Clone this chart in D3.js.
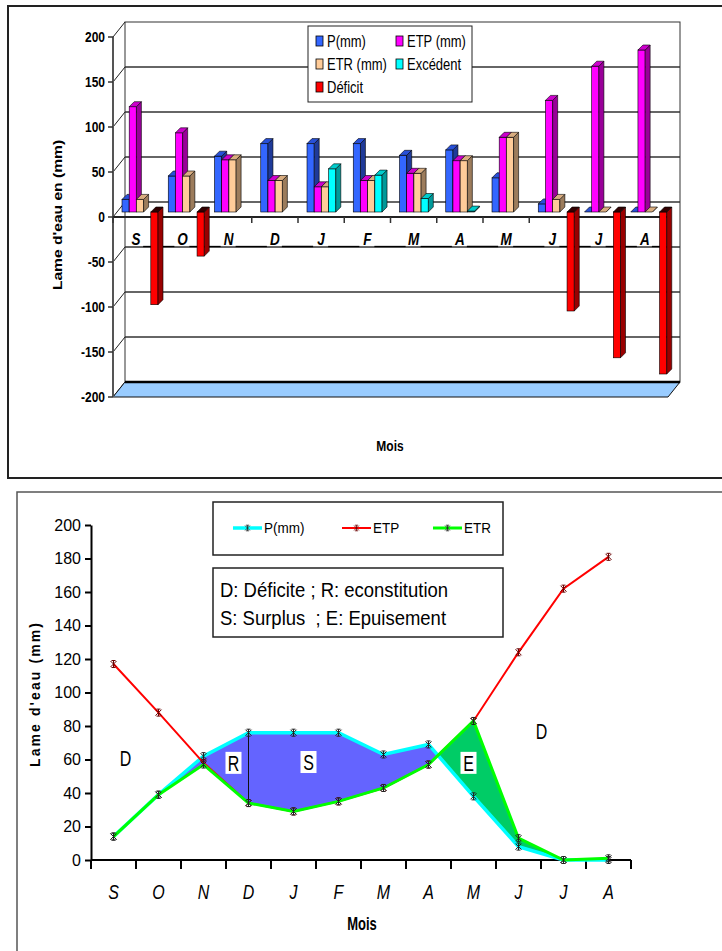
<!DOCTYPE html>
<html>
<head>
<meta charset="utf-8">
<script src="https://d3js.org/d3.v7.min.js"></script>
<style>
    body { margin: 0; background: #fff; font-family: Arial, "Liberation Sans", sans-serif; }
    svg { display: block; }
</style>
</head>
<body>
<svg id="chart" width="722" height="951"></svg>
<script>
    // months (Sept -> Aug)
    const months = ["S", "O", "N", "D", "J", "F", "M", "A", "M", "J", "J", "A"];

    // top chart : bar values (mm)
    const pBar = [14, 40, 62, 76, 76, 76, 63, 69, 38, 9, 0, 0];
    const etpBar = [117, 88, 58, 35, 28, 35, 43, 57, 83, 124, 162, 180];
    const etrBar = [14, 40, 58, 35, 28, 35, 43, 57, 83, 14, 0, 0];
    const excedent = [null, null, null, null, 48, 41, 15, 1, null, null, null, null];
    const deficit = [-103, -49, null, null, null, null, null, null, null, -110, -162, -180];
    const barTicks = [200, 150, 100, 50, 0, -50, -100, -150, -200];

    // bottom chart : line values (mm)
    const pLine = [14, 39, 62, 76, 76, 76, 63, 69, 38, 8, 0, 0];
    const etpLine = [117, 88, 58, 34, 29, 35, 43, 57, 83, 124, 162, 181];
    const etrLine = [14, 39, 57, 34, 29, 35, 43, 57, 83, 13, 0, 1];
    const lineTicks = [0, 20, 40, 60, 80, 100, 120, 140, 160, 180, 200];

    const svg = d3.select("#chart");

    // text helper (the original scan is a bit stretched vertically)
    function label(g, x, y, s, o = {}) {
        const t = g.append("text")
            .attr("transform", `translate(${x},${y}) scale(1,${o.sy || 1})${o.rot ? " rotate(" + o.rot + ")" : ""}`)
            .attr("text-anchor", o.anchor || "middle")
            .attr("font-size", o.size || 12)
            .attr("font-weight", o.bold ? "bold" : "normal")
            .attr("font-style", o.italic ? "italic" : "normal")
            .attr("fill", "#000")
            .style("white-space", "pre")
            .text(s);
        if (o.dy) t.attr("dy", o.dy);
        if (o.len) t.attr("textLength", o.len).attr("lengthAdjust", "spacing");
        return t;
    }

    // ================= TOP CHART (3D bars) =================
    const topG = svg.append("g");
    topG.append("rect").attr("x", 8).attr("y", 6).attr("width", 760).attr("height", 472)
        .attr("fill", "none").attr("stroke", "#222").attr("stroke-width", 2);

    const wall = { dx: 12, dy: -15 };      // back wall offset
    const bar3d = { dx: 5, dy: -5 };       // bar thickness
    const yFront = d3.scaleLinear().domain([-200, 200]).range([397, 37]);
    const yBar = d3.scaleLinear().domain([-200, 200]).range([392, 32]);
    const xTop = d3.scaleBand().domain(d3.range(12)).range([113, 668]);
    const xL = xTop.range()[0], xR = xTop.range()[1];

    // back wall
    topG.append("rect")
        .attr("x", xL + wall.dx).attr("y", yFront(200) + wall.dy)
        .attr("width", xR - xL).attr("height", yFront(-200) - yFront(200))
        .attr("fill", "#fff").attr("stroke", "#333").attr("stroke-width", 1);
    topG.selectAll(".grid").data(barTicks.filter(v => v > -200 && v < 200)).enter()
        .append("line")
        .attr("x1", xL + wall.dx).attr("x2", xR + wall.dx)
        .attr("y1", v => yFront(v) + wall.dy).attr("y2", v => yFront(v) + wall.dy)
        .attr("stroke", "#333").attr("stroke-width", 1.5);
    // left side wall
    topG.selectAll(".side").data(barTicks).enter()
        .append("line")
        .attr("x1", xL).attr("x2", xL + wall.dx)
        .attr("y1", v => yFront(v)).attr("y2", v => yFront(v) + wall.dy)
        .attr("stroke", "#222").attr("stroke-width", 1);
    // floor
    topG.append("polygon")
        .attr("points", [[xL, yFront(-200)], [xR, yFront(-200)], [xR + wall.dx, yFront(-200) + wall.dy], [xL + wall.dx, yFront(-200) + wall.dy]].join(" "))
        .attr("fill", "#99ccff").attr("stroke", "#111").attr("stroke-width", 1);
    topG.append("line")
        .attr("x1", xL + wall.dx).attr("x2", xR + wall.dx)
        .attr("y1", yFront(-200) + wall.dy).attr("y2", yFront(-200) + wall.dy)
        .attr("stroke", "#000").attr("stroke-width", 2.5);

    // y axis
    topG.append("line").attr("x1", xL).attr("x2", xL).attr("y1", yFront(200)).attr("y2", yFront(-200))
        .attr("stroke", "#555").attr("stroke-width", 2);
    barTicks.forEach(v => {
        topG.append("line").attr("x1", xL - 5).attr("x2", xL).attr("y1", yFront(v)).attr("y2", yFront(v))
            .attr("stroke", "#333").attr("stroke-width", 1.5);
        label(topG, xL - 8, yFront(v), String(v), { anchor: "end", bold: true, size: 12, sy: 1.25, dy: "0.35em" });
    });

    // x axis
    topG.append("line").attr("x1", xL).attr("x2", xR).attr("y1", yFront(0)).attr("y2", yFront(0))
        .attr("stroke", "#222").attr("stroke-width", 2);
    d3.range(13).forEach(i => {
        const xx = i < 12 ? xTop(i) : xR;
        topG.append("line").attr("x1", xx).attr("x2", xx).attr("y1", yFront(0)).attr("y2", yFront(0) + 6)
            .attr("stroke", "#333").attr("stroke-width", 1.5);
    });
    months.forEach((m, i) => {
        const cx = xTop(i) + xTop.bandwidth() / 2;
        const nx = i < 11 ? xTop(i + 1) + xTop.bandwidth() / 2 - 8 : cx + 20;
        topG.append("line").attr("x1", cx + 7).attr("x2", nx).attr("y1", 246.5).attr("y2", 246.5)
            .attr("stroke", "#000").attr("stroke-width", 1.3);
        label(topG, cx, 245, m, { bold: true, italic: true, size: 13.5, sy: 1.25 });
    });

    // bars
    const series = [
        { key: "P", name: "P(mm)", values: pBar, front: "#3366ff", top: "#2850d8", side: "#1f3a99" },
        { key: "ETP", name: "ETP (mm)", values: etpBar, front: "#ff00ff", top: "#cc00cc", side: "#990099" },
        { key: "ETR", name: "ETR (mm)", values: etrBar, front: "#ffcc99", top: "#d9ad80", side: "#9c7c5c" },
        { key: "EXC", name: "Excédent", values: excedent, front: "#00ffff", top: "#00cccc", side: "#009999" },
        { key: "DEF", name: "Déficit", values: deficit, front: "#ff0000", top: "#300000", side: "#990000" }
    ];
    const inner = d3.scaleBand().domain(series.map(s => s.key)).range([9, 45]);
    const barsG = topG.append("g").attr("stroke", "#000").attr("stroke-width", 0.6);
    months.forEach((m, i) => {
        series.forEach(s => {
            const v = s.values[i];
            if (v === null) return;
            const bx = xTop(i) + inner(s.key), w = inner.bandwidth();
            const y0 = yBar(0), y1 = yBar(v);
            const yt = Math.min(y0, y1), yb = Math.max(y0, y1);
            barsG.append("rect").attr("x", bx).attr("y", yt).attr("width", w).attr("height", yb - yt)
                .attr("fill", s.front);
            barsG.append("polygon")
                .attr("points", [[bx + w, yt], [bx + w + bar3d.dx, yt + bar3d.dy], [bx + w + bar3d.dx, yb + bar3d.dy], [bx + w, yb]].join(" "))
                .attr("fill", s.side);
            barsG.append("polygon")
                .attr("points", [[bx, yt], [bx + w, yt], [bx + w + bar3d.dx, yt + bar3d.dy], [bx + bar3d.dx, yt + bar3d.dy]].join(" "))
                .attr("fill", s.top);
        });
    });

    // legend
    const lg = topG.append("g");
    lg.append("rect").attr("x", 308).attr("y", 26).attr("width", 164).attr("height", 76)
        .attr("fill", "#fff").attr("stroke", "#222").attr("stroke-width", 1);
    series.forEach((s, i) => {
        const lx = i % 2 === 0 ? 316 : 396, ly = 41 + Math.floor(i / 2) * 23;
        lg.append("rect").attr("x", lx).attr("y", ly - 5).attr("width", 7).attr("height", 10)
            .attr("fill", s.front).attr("stroke", "#000").attr("stroke-width", 0.8);
        label(lg, lx + 11, ly, s.name, { anchor: "start", size: 13, sy: 1.2, dy: "0.36em" });
    });

    label(topG, 62, 215, "Lame d'eau en (mm)", { bold: true, size: 12.5, sy: 1.25, rot: -90 });
    label(topG, 390, 451, "Mois", { bold: true, size: 12, sy: 1.25 });

    // ================= BOTTOM CHART (lines) =================
    const botG = svg.append("g");
    botG.append("rect").attr("x", 17).attr("y", 492).attr("width", 800).attr("height", 500)
        .attr("fill", "none").attr("stroke", "#555").attr("stroke-width", 1.5);

    const y = d3.scaleLinear().domain([0, 200]).range([860, 525]);
    const x = d3.scaleBand().domain(d3.range(12)).range([91, 631]);
    const xc = i => x(i) + x.bandwidth() / 2;

    const defs = svg.append("defs");
    defs.append("clipPath").attr("id", "aboveEtr").append("path")
        .attr("d", d3.area().x((d, i) => xc(i)).y0(0).y1(d => y(d))(etrLine));
    defs.append("clipPath").attr("id", "belowEtr").append("path")
        .attr("d", d3.area().x((d, i) => xc(i)).y0(951).y1(d => y(d))(etrLine));

    // surplus / recharge (P above ETR)
    botG.append("path")
        .attr("d", d3.area().x((d, i) => xc(i)).y0(951).y1(d => y(d))(pLine))
        .attr("clip-path", "url(#aboveEtr)").attr("fill", "#6464ff");
    // depletion (ETR above P)
    botG.append("path")
        .attr("d", d3.area().x((d, i) => xc(i)).y0(0).y1(d => y(d))(pLine))
        .attr("clip-path", "url(#belowEtr)").attr("fill", "#00cc66");

    // separator R | S
    botG.append("line").attr("x1", xc(3)).attr("x2", xc(3)).attr("y1", y(pLine[3])).attr("y2", y(etrLine[3]))
        .attr("stroke", "#111").attr("stroke-width", 1);

    // axes
    const yAxis = botG.append("g").attr("transform", `translate(${x.range()[0]},0)`)
        .call(d3.axisLeft(y).tickValues(lineTicks).tickSize(6).tickSizeOuter(0).tickPadding(4));
    yAxis.select(".domain").attr("stroke", "#000").attr("stroke-width", 2);
    yAxis.selectAll(".tick line").attr("stroke", "#000").attr("stroke-width", 2);
    yAxis.selectAll("text").attr("font-size", 16).attr("font-family", "Arial, 'Liberation Sans', sans-serif").attr("fill", "#000");

    botG.append("line").attr("x1", x.range()[0]).attr("x2", x.range()[1]).attr("y1", y(0)).attr("y2", y(0))
        .attr("stroke", "#000").attr("stroke-width", 2);
    d3.range(13).forEach(i => {
        const xx = i < 12 ? x(i) : x.range()[1];
        botG.append("line").attr("x1", xx).attr("x2", xx).attr("y1", y(0)).attr("y2", y(0) + 9)
            .attr("stroke", "#000").attr("stroke-width", 2);
    });
    months.forEach((m, i) => label(botG, xc(i), 899, m, { italic: true, size: 16, sy: 1.3 }));

    // lines + markers
    const line = d3.line().x((d, i) => xc(i)).y(d => y(d));
    const star = "M-3,-3L3,3M3,-3L-3,3M0,-3.5L0,3.5M-2,-3.5L2,-3.5M-2,3.5L2,3.5";
    const lineSeries = [
        { name: "P(mm)", values: pLine, color: "#00ffff", width: 3.5, mark: "#222", lx: 233 },
        { name: "ETP", values: etpLine, color: "#ff0000", width: 2, mark: "#6a0000", lx: 342 },
        { name: "ETR", values: etrLine, color: "#00ff00", width: 3, mark: "#222", lx: 433 }
    ];
    lineSeries.forEach(s => {
        botG.append("path").attr("d", line(s.values)).attr("fill", "none")
            .attr("stroke", s.color).attr("stroke-width", s.width);
        botG.selectAll(null).data(s.values).enter().append("path")
            .attr("d", star).attr("transform", (d, i) => `translate(${xc(i)},${y(d)})`)
            .attr("fill", "none").attr("stroke", s.mark).attr("stroke-width", 1);
    });

    // area labels
    function tag(xx, yy, s, boxed) {
        if (boxed) botG.append("rect").attr("x", xx - 8).attr("y", yy - 11).attr("width", 16).attr("height", 22).attr("fill", "#fff");
        label(botG, xx, yy, s, { size: 16, sy: 1.35, dy: "0.36em" });
    }
    tag(xc(0) + 12, y(61), "D", false);
    tag(xc(3) - 15, y(58), "R", true);
    tag(xc(4) + 15, y(58.5), "S", true);
    tag(xc(8) - 5, y(58), "E", true);
    tag(xc(9) + 23, y(77), "D", false);

    // legend
    const lg2 = botG.append("g");
    lg2.append("rect").attr("x", 213).attr("y", 502).attr("width", 290).attr("height", 53)
        .attr("fill", "#fff").attr("stroke", "#222").attr("stroke-width", 1.5);
    lineSeries.forEach(s => {
        lg2.append("line").attr("x1", s.lx).attr("x2", s.lx + 29).attr("y1", 528).attr("y2", 528)
            .attr("stroke", s.color).attr("stroke-width", s.width);
        lg2.append("path").attr("d", star).attr("transform", `translate(${s.lx + 14.5},528) scale(0.8)`)
            .attr("fill", "none").attr("stroke", s.mark).attr("stroke-width", 1);
        label(lg2, s.lx + 31, 528, s.name, { anchor: "start", size: 13.5, sy: 1.1, dy: "0.36em" });
    });

    const nb = botG.append("g");
    nb.append("rect").attr("x", 213).attr("y", 568).attr("width", 290).attr("height", 69)
        .attr("fill", "#fff").attr("stroke", "#222").attr("stroke-width", 1.5);
    label(nb, 220, 597, "D: Déficite ; R: econstitution", { anchor: "start", size: 18.5, sy: 1.12 });
    label(nb, 220, 625, "S: Surplus  ; E: Epuisement", { anchor: "start", size: 18.5, sy: 1.12 });

    label(botG, 40, 695, "Lame d'eau (mm)", { bold: true, size: 14, rot: -90, len: 144 });
    label(botG, 362, 930, "Mois", { bold: true, size: 13, sy: 1.35 });
</script>
</body>
</html>
